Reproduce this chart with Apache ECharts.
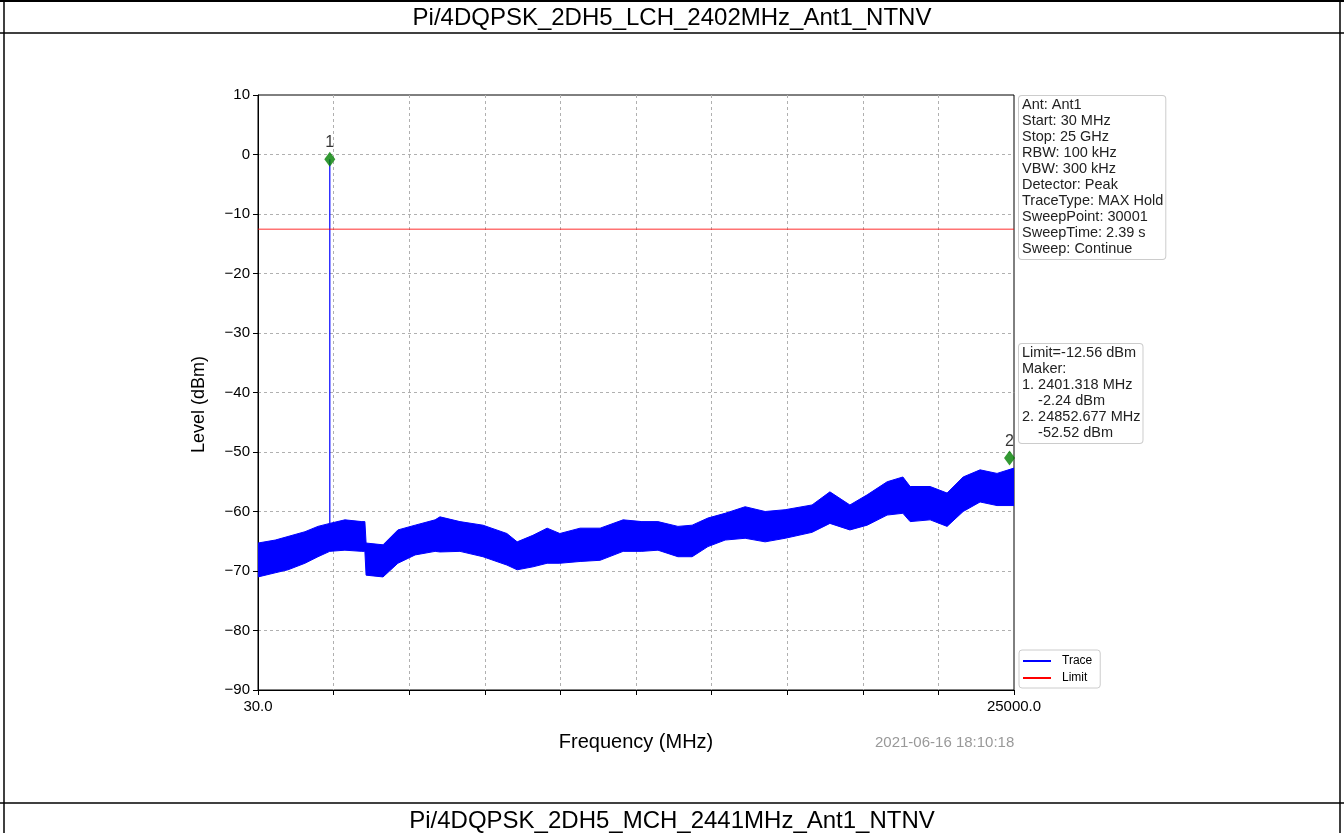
<!DOCTYPE html>
<html>
<head>
<meta charset="utf-8">
<script src="https://cdn.jsdelivr.net/npm/echarts@6/dist/echarts.min.js"></script>
<style>
html, body { margin: 0; padding: 0; background: #fff; }
#main { width: 1344px; height: 833px; }
</style>
</head>
<body>
<div id="main"></div>
<script>
// frequency samples (MHz) and read envelope of the max-hold trace (dBm)
var freq = [30, 600, 1020, 1580, 2010, 2400, 2900, 3460, 3560, 3600, 4160, 4650, 5220, 5880, 6040,
    6700, 7460, 8250, 8590, 9110, 9580, 10000, 10670, 11330, 12090, 12710, 13240, 13900, 14370, 14890,
    15460, 16120, 16780, 17440, 18330, 18920, 19580, 20150, 20810, 21330, 21570, 22230, 22790, 23320,
    23880, 24440, 25000];
var upper = [-65.3, -64.8, -64.2, -63.4, -62.5, -62.0, -61.4, -61.7, -61.7, -65.3, -65.6, -63.1, -62.3, -61.4, -60.9,
    -61.7, -62.3, -63.7, -65.1, -64.0, -62.8, -63.7, -62.8, -62.8, -61.4, -61.7, -61.7, -62.5, -62.3, -61.1,
    -60.3, -59.2, -60.0, -59.7, -58.9, -56.7, -58.9, -57.2, -55.0, -54.2, -55.8, -55.8, -56.9, -54.2,
    -53.0, -53.6, -52.7];
var lower = [-71.0, -70.3, -69.8, -68.7, -67.6, -66.7, -66.5, -66.7, -66.7, -70.7, -71.0, -68.7, -67.3, -66.7, -66.8,
    -66.7, -67.6, -69.0, -69.8, -69.3, -68.7, -68.7, -68.4, -68.2, -66.7, -66.7, -66.5, -67.6, -67.6, -65.9,
    -64.8, -64.5, -65.1, -64.5, -63.5, -62.0, -63.1, -62.3, -60.6, -60.3, -61.7, -61.4, -62.5, -60.0,
    -58.4, -59.0, -59.0];
// carrier spike
var spikeFreq = [2401.318, 2401.318];
var spikeLevel = [-63.0, -0.8];
// markers
var markerName = ['1', '2'];
var markerFreq = [2401.318, 24852.677];
var markerLevel = [-0.8, -51.0];
var limitLevel = -12.56;
var xMin = 30, xMax = 25000, xStep = 2497;

var infoLines = ['Ant: Ant1', 'Start: 30 MHz', 'Stop: 25 GHz', 'RBW: 100 kHz', 'VBW: 300 kHz',
    'Detector: Peak', 'TraceType: MAX Hold', 'SweepPoint: 30001', 'SweepTime: 2.39 s', 'Sweep: Continue'];
var makerLines = ['Limit=-12.56 dBm', 'Maker:', '1. 2401.318 MHz', '    -2.24 dBm',
    '2. 24852.677 MHz', '    -52.52 dBm'];

var font = 'Liberation Sans, Arial, sans-serif';
var myChart = echarts.init(document.getElementById('main'));

var option = {
    backgroundColor: '#fff',
    animation: false,
    textStyle: { fontFamily: font },
    grid: {
        left: 258, right: 330, top: 95, bottom: 143,
        show: true, borderColor: '#000', borderWidth: 1, backgroundColor: 'transparent'
    },
    xAxis: {
        type: 'value', min: xMin, max: xMax, interval: xStep,
        name: 'Frequency (MHz)', nameLocation: 'middle', nameGap: 42,
        nameTextStyle: { fontSize: 20, color: '#000', fontFamily: font },
        axisLine: { onZero: false, lineStyle: { color: '#000', width: 1 } },
        axisTick: { show: true, length: 5, lineStyle: { color: '#000' } },
        axisLabel: {
            color: '#000', fontSize: 15, margin: 9, showMinLabel: true, showMaxLabel: true,
            formatter: function (v) {
                if (Math.abs(v - xMin) < 1) return xMin.toFixed(1);
                if (Math.abs(v - xMax) < 1) return xMax.toFixed(1);
                return '';
            }
        },
        splitLine: { show: true, showMinLine: false, showMaxLine: false, lineStyle: { color: '#b0b0b0', type: [3, 3], width: 1 } }
    },
    yAxis: {
        type: 'value', min: -90, max: 10, interval: 10,
        name: 'Level (dBm)', nameLocation: 'middle', nameGap: 50,
        nameTextStyle: { fontSize: 18, color: '#000', fontFamily: font, padding: [0, 24, 0, 0] },
        axisLine: { show: true, onZero: false, lineStyle: { color: '#000', width: 1 } },
        axisTick: { show: true, length: 5, lineStyle: { color: '#000' } },
        axisLabel: {
            color: '#000', fontSize: 15, margin: 8,
            formatter: function (v) { return String(v).replace('-', '\u2212'); }
        },
        splitLine: { show: true, showMinLine: false, showMaxLine: false, lineStyle: { color: '#b0b0b0', type: [3, 3], width: 1 } }
    },
    legend: {
        orient: 'vertical', left: 1019, top: 650,
        padding: [5, 8, 4, 4], itemGap: 5, itemWidth: 28, itemHeight: 2, icon: 'rect',
        backgroundColor: '#fff', borderColor: '#cccccc', borderWidth: 1, borderRadius: 3,
        textStyle: { fontSize: 12, color: '#000', fontFamily: font, padding: [0, 0, 0, 6] },
        data: [
            { name: 'Trace', itemStyle: { color: '#0000ff' } },
            { name: 'Limit', itemStyle: { color: '#ff0000' } }
        ]
    },
    graphic: [
        // table frame
        { type: 'line', shape: { x1: 0, y1: 1, x2: 1344, y2: 1 }, style: { stroke: '#000', lineWidth: 2 } },
        { type: 'line', shape: { x1: 4, y1: 0, x2: 4, y2: 833 }, style: { stroke: '#000', lineWidth: 1.5 } },
        { type: 'line', shape: { x1: 1340, y1: 0, x2: 1340, y2: 833 }, style: { stroke: '#000', lineWidth: 1.5 } },
        { type: 'line', shape: { x1: 0, y1: 33, x2: 1344, y2: 33 }, style: { stroke: '#000', lineWidth: 1.5 } },
        { type: 'line', shape: { x1: 0, y1: 803, x2: 1344, y2: 803 }, style: { stroke: '#000', lineWidth: 1.5 } },
        {
            type: 'text', x: 672, y: 18,
            style: { text: 'Pi/4DQPSK_2DH5_LCH_2402MHz_Ant1_NTNV', font: '24px ' + font, fill: '#000', align: 'center', verticalAlign: 'middle' }
        },
        {
            type: 'text', x: 672, y: 821,
            style: { text: 'Pi/4DQPSK_2DH5_MCH_2441MHz_Ant1_NTNV', font: '24px ' + font, fill: '#000', align: 'center', verticalAlign: 'middle' }
        },
        {
            type: 'text', left: 1018, top: 95, z: 10,
            style: {
                text: infoLines.join('\n'), font: '14.5px ' + font, fill: '#222', lineHeight: 16,
                backgroundColor: '#fff', borderColor: '#cccccc', borderWidth: 1, borderRadius: 3, padding: [1, 2, 2, 3]
            }
        },
        {
            type: 'text', left: 1018, top: 343, z: 10,
            style: {
                text: makerLines.join('\n'), font: '14.5px ' + font, fill: '#222', lineHeight: 16,
                backgroundColor: '#fff', borderColor: '#cccccc', borderWidth: 1, borderRadius: 3, padding: [1, 2, 2, 3]
            }
        },
        {
            type: 'text', left: 875, top: 735,
            style: { text: '2021-06-16 18:10:18', font: '15px ' + font, fill: '#999' }
        }
    ],
    series: [
        {
            name: 'Trace', type: 'custom', coordinateSystem: 'cartesian2d', clip: true,
            data: [[freq[0], upper[0]]],
            renderItem: function (params, api) {
                var pts = [];
                for (var i = 0; i < freq.length; i++) pts.push(api.coord([freq[i], upper[i]]));
                for (var j = freq.length - 1; j >= 0; j--) pts.push(api.coord([freq[j], lower[j]]));
                return {
                    type: 'polygon', shape: { points: pts },
                    style: { fill: '#0000ff', stroke: '#0000ff', lineWidth: 1 }
                };
            },
            z: 3
        },
        {
            name: 'Trace', type: 'line', symbol: 'none',
            data: spikeFreq.map(function (f, i) { return [f, spikeLevel[i]]; }),
            lineStyle: { color: '#0000ff', width: 1.2 },
            z: 3
        },
        {
            name: 'Limit', type: 'line', symbol: 'none',
            data: [[xMin, limitLevel], [xMax, limitLevel]],
            lineStyle: { color: 'rgba(255,0,0,0.55)', width: 1.5 },
            z: 4
        },
        {
            name: 'Marker', type: 'scatter', symbol: 'diamond', symbolSize: [11, 15],
            itemStyle: { color: '#008000' },
            label: {
                show: true, position: 'top', distance: 1, fontSize: 16, color: '#000',
                formatter: function (p) { return markerName[p.dataIndex]; }
            },
            data: markerFreq.map(function (f, i) { return [f, markerLevel[i]]; }),
            z: 6
        }
    ]
};
myChart.setOption(option);
window.addEventListener('resize', function () {
    myChart.resize();
});
</script>
</body>
</html>
